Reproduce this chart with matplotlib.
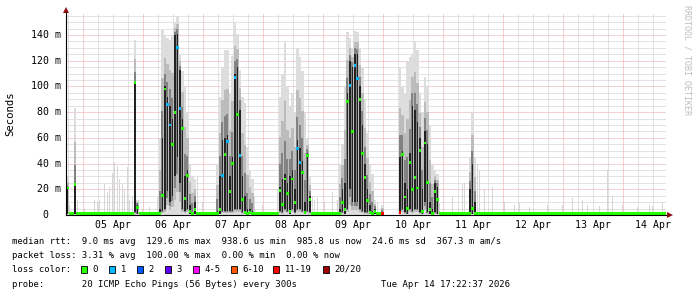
import numpy as np
import matplotlib
matplotlib.use("Agg")
from matplotlib import pyplot as plt
from matplotlib.patches import Rectangle
from matplotlib.lines import Line2D

# time axis: hours since graph start (Sat Apr 04 17:22:37 2026), 1 bin = 1 hour
span_hours = 240
first_midnight_h = 6.623  # 05 Apr 00:00
day_labels = ["05 Apr", "06 Apr", "07 Apr", "08 Apr", "09 Apr",
              "10 Apr", "11 Apr", "12 Apr", "13 Apr", "14 Apr"]

y_ticks = [0, 20, 40, 60, 80, 100, 120, 140]
y_tick_labels = ["0  ", "20 m", "40 m", "60 m", "80 m", "100 m", "120 m", "140 m"]
y_top = 157.1

# median rtt when the link is quiet (ms)
quiet_median_ms = 1.0

# busy hours: median, lost pings, dense smoke range, max ping (ms)
ev_hours = [0, 3,
            27, 28,
            37, 38, 39, 40, 41, 42, 43, 44, 45, 46, 47, 48, 49, 50, 51,
            60, 61, 62, 63, 64, 65, 66, 67, 68, 69, 70, 71, 72, 73, 74,
            85, 86, 87, 88, 89, 90, 91, 92, 93, 94, 95, 96, 97,
            109, 110, 111, 112, 113, 114, 115, 116, 117, 118, 119, 120, 121, 122, 123,
            126,
            133, 134, 135, 136, 137, 138, 139, 140, 141, 142, 143, 144, 145, 146, 147, 148,
            161, 162, 163]
ev_median = [21, 24,
             103, 6,
             1, 15, 98, 86, 70, 55, 80, 130, 83, 67, 13, 31, 3, 1, 4,
             1, 4, 31, 47, 57, 18, 40, 107, 78, 46, 12, 2, 1, 2, 1,
             19, 8, 28, 17, 3, 28, 10, 52, 41, 33, 2, 46, 12,
             1, 10, 4, 88, 101, 65, 116, 106, 90, 48, 29, 11, 2, 1, 3,
             1,
             2, 47, 14, 5, 41, 20, 29, 21, 50, 3, 56, 25, 4, 1, 18, 12,
             1, 5, 1]
ev_loss = [0, 0,
           0, 0,
           0, 0, 0, 1, 1, 0, 0, 1, 1, 0, 0, 0, 0, 0, 0,
           0, 0, 1, 0, 1, 0, 0, 1, 0, 1, 0, 0, 0, 0, 0,
           0, 0, 0, 0, 0, 0, 0, 1, 1, 0, 0, 0, 0,
           0, 0, 0, 0, 1, 0, 1, 1, 0, 0, 0, 0, 0, 0, 0,
           12,
           12, 0, 0, 0, 0, 0, 0, 0, 0, 0, 0, 0, 0, 0, 0, 0,
           0, 0, 0]
ev_core_lo = [1, 1,
              2, 1,
              0, 3, 5, 19, 10, 15, 30, 45, 25, 5, 3, 5, 1, 0, 1,
              0, 1, 3, 3, 3, 3, 3, 5, 5, 5, 2, 1, 0, 1, 0,
              3, 2, 5, 3, 1, 5, 2, 5, 5, 3, 1, 3, 2,
              0, 2, 1, 5, 20, 10, 10, 10, 5, 3, 2, 2, 1, 0, 1,
              0,
              1, 5, 2, 1, 5, 3, 5, 5, 2, 1, 10, 2, 1, 0, 2, 1,
              0, 1, 0]
ev_core_hi = [21, 24,
              103, 8,
              5, 60, 100, 92, 85, 75, 140, 141, 113, 75, 30, 35, 8, 2, 10,
              3, 30, 58, 60, 62, 30, 45, 110, 115, 82, 30, 15, 5, 5, 3,
              22, 28, 32, 25, 30, 35, 20, 58, 52, 42, 10, 48, 15,
              5, 20, 25, 95, 120, 115, 125, 125, 100, 70, 40, 20, 8, 3, 5,
              2,
              45, 50, 25, 20, 48, 85, 82, 72, 60, 20, 65, 55, 10, 5, 25, 22,
              20, 40, 10]
ev_smoke_max = [30, 83,
                136, 12,
                60, 144, 140, 138, 136, 140, 150, 155, 125, 112, 100, 80, 40, 30, 28,
                40, 92, 115, 128, 128, 95, 124, 149, 141, 113, 92, 87, 53, 35, 28,
                92, 110, 135, 100, 85, 95, 80, 130, 123, 112, 80, 60, 30,
                40, 55, 100, 142, 138, 130, 143, 142, 130, 115, 90, 64, 40, 32, 12,
                8,
                115, 100, 95, 120, 123, 125, 135, 128, 95, 80, 107, 100, 70, 40, 35, 32,
                45, 80, 45]

# lone light smoke spikes during quiet hours (max ping, ms)
quiet_hours = [1, 4, 7, 11, 12, 13, 15, 16, 17, 18, 19, 20, 21, 22, 23, 24, 25, 26,
               30, 33, 36, 52, 54, 75, 78, 84, 98, 99, 100, 103, 106, 108, 124,
               149, 154, 158, 159, 164, 165, 167, 170, 175, 179, 181, 185, 192,
               198, 202, 206, 208, 213, 216, 218, 222, 228, 233, 234, 238]
quiet_smoke_max = [8, 12, 5, 12, 10, 12, 25, 18, 22, 33, 41, 38, 28, 24, 20, 37, 12, 15,
                   5, 6, 14, 30, 10, 15, 8, 20, 15, 12, 13, 10, 18, 12, 10,
                   10, 14, 25, 25, 40, 35, 20, 22, 10, 8, 9, 6, 8,
                   8, 13, 12, 8, 7, 35, 15, 8, 6, 8, 7, 10]

# hours with no median at all (100 % loss)
nodata_hours = [127, 128, 129, 130, 131, 132]

loss_limits = [0, 1, 2, 3, 5, 10, 19, 20]
loss_names = ["0", "1", "2", "3", "4-5", "6-10", "11-19", "20/20"]
loss_colors = ["#26ff00", "#00b8ff", "#0059ff", "#5e00ff",
               "#ff00ff", "#ff5500", "#ff0000", "#a00000"]

legend_rtt = "median rtt:  9.0 ms avg  129.6 ms max  938.6 us min  985.8 us now  24.6 ms sd  367.3 m am/s"
legend_loss = "packet loss: 3.31 % avg  100.00 % max  0.00 % min  0.00 % now"
legend_probe = "probe:       20 ICMP Echo Pings (56 Bytes) every 300s"
stamp = "Tue Apr 14 17:22:37 2026"

W, H = 697, 297
MONO = "DejaVu Sans Mono"


def fx(x):
    return x / W


def fy(y):
    return 1 - y / H


fig = plt.figure(figsize=(W / 100, H / 100), dpi=100, facecolor="white")
ax = fig.add_axes([fx(66), fy(215), 600 / W, 202 / H])
ax.set_xlim(0, span_hours)
ax.set_ylim(0, y_top)
ax.axis("off")

# dotted grid
dot = (0, (1, 1))
for k in range(-1, 11):
    for q in range(4):
        h = first_midnight_h + 24 * k + 6 * q
        if 0 < h < span_hours:
            major = q == 0
            ax.axvline(h, color="#eaa4a4" if major else "#c8c8c8", lw=0.72, ls=dot,
                       zorder=1 if major else 0.5)
for v in np.arange(5, y_top, 5):
    major = v % 20 == 0
    ax.axhline(v, color="#eaa4a4" if major else "#c8c8c8", lw=0.72, ls=dot,
               zorder=1 if major else 0.5)

# quiet smoke spikes
qh = np.array(quiet_hours) + 0.5
ax.bar(qh, quiet_smoke_max, width=0.55, color="#d6d6d6", linewidth=0, zorder=2)

# smoke for busy hours: light outer smoke, darker towards the dense core
eh = np.array(ev_hours) + 0.5
lo = np.array(ev_core_lo, float)
hi = np.array(ev_core_hi, float)
top = np.array(ev_smoke_max, float)
b_lo, b_hi = lo * 0.4, hi + (top - hi) * 0.55
c_lo, c_hi = lo * 0.7, hi + (top - hi) * 0.25

# outer layers as continuous steps so neighbouring hours do not leave seams
edges = np.arange(span_hours + 1)
top_full = np.zeros(span_hours)
blo_full = np.zeros(span_hours)
bhi_full = np.zeros(span_hours)
top_full[ev_hours] = top
blo_full[ev_hours] = b_lo
bhi_full[ev_hours] = b_hi
ax.stairs(top_full, edges, baseline=0, fill=True, color="#dddddd", lw=0, zorder=2)
ax.stairs(bhi_full, edges, baseline=blo_full, fill=True, color="#bcbcbc", lw=0, zorder=2.1)
ax.bar(eh, c_hi - c_lo, bottom=c_lo, width=0.8, color="#828282", linewidth=0, zorder=2.2)
ax.bar(eh, hi - lo, bottom=lo, width=0.6, color="#222222", linewidth=0, zorder=2.3)

# median, coloured by loss
med = np.full(span_hours, quiet_median_ms)
loss = np.zeros(span_hours)
med[ev_hours] = ev_median
loss[ev_hours] = ev_loss
med[nodata_hours] = np.nan
half = 1.1
hours = np.arange(span_hours) + 0.5
prev = -1
for lim, col in zip(loss_limits, loss_colors):
    sel = (loss > prev) & (loss <= lim) & ~np.isnan(med)
    prev = lim
    if sel.any():
        ax.bar(hours[sel], 2 * half, bottom=med[sel] - half, width=1.0,
               color=col, linewidth=0, antialiased=False, zorder=3)

# axes lines with arrows
fig.add_artist(Line2D([fx(66), fx(669)], [fy(215), fy(215)], color="black", lw=0.8))
fig.add_artist(Line2D([fx(66), fx(66)], [fy(215), fy(11)], color="black", lw=0.8))
fig.add_artist(Line2D([fx(670)], [fy(215)], marker=">", ms=4.5, color="#8b1010", mew=0))
fig.add_artist(Line2D([fx(66)], [fy(10)], marker="^", ms=4.5, color="#8b1010", mew=0))

# y tick labels
for v, lab in zip(y_ticks, y_tick_labels):
    fig.text(fx(60.5), fy(215 - v * 202 / y_top), lab, ha="right", va="center",
             family=MONO, fontsize=7.1)

# x tick labels, centred at noon of each day
for k, lab in enumerate(day_labels):
    h = first_midnight_h + 24 * k + 12
    fig.text(fx(66 + h * 2.5), fy(225), lab, ha="center", va="center",
             family=MONO, fontsize=7.1)

fig.text(fx(10), fy(114), "Seconds", rotation=90, ha="center", va="center",
         family=MONO, fontsize=7.7)
fig.text(fx(687), fy(60), "RRDTOOL / TOBI OETIKER", rotation=270, ha="center",
         va="center", family=MONO, fontsize=6, color="#bdbdbd")

# legend
fig.text(fx(12), fy(241), legend_rtt, ha="left", va="center", family=MONO, fontsize=6.4)
fig.text(fx(12), fy(256), legend_loss, ha="left", va="center", family=MONO, fontsize=6.4)
fig.text(fx(12), fy(269.5), "loss color:", ha="left", va="center", family=MONO, fontsize=6.4)
box_x = [81, 109, 136.7, 165, 192.7, 230.7, 273.3, 322.7]
for bx, name, col in zip(box_x, loss_names, loss_colors):
    fig.add_artist(Rectangle((fx(bx), fy(272.5)), 6 / W, 7 / H, transform=fig.transFigure,
                             facecolor=col, edgecolor="black", lw=0.6))
    fig.text(fx(bx + 11.5), fy(269.5), name, ha="left", va="center", family=MONO, fontsize=6.4)
fig.text(fx(12), fy(284.5), legend_probe, ha="left", va="center", family=MONO, fontsize=6.4)
fig.text(fx(510), fy(284.5), stamp, ha="right", va="center", family=MONO, fontsize=6.4)

fig.savefig("out.png", dpi=100, facecolor="white")
